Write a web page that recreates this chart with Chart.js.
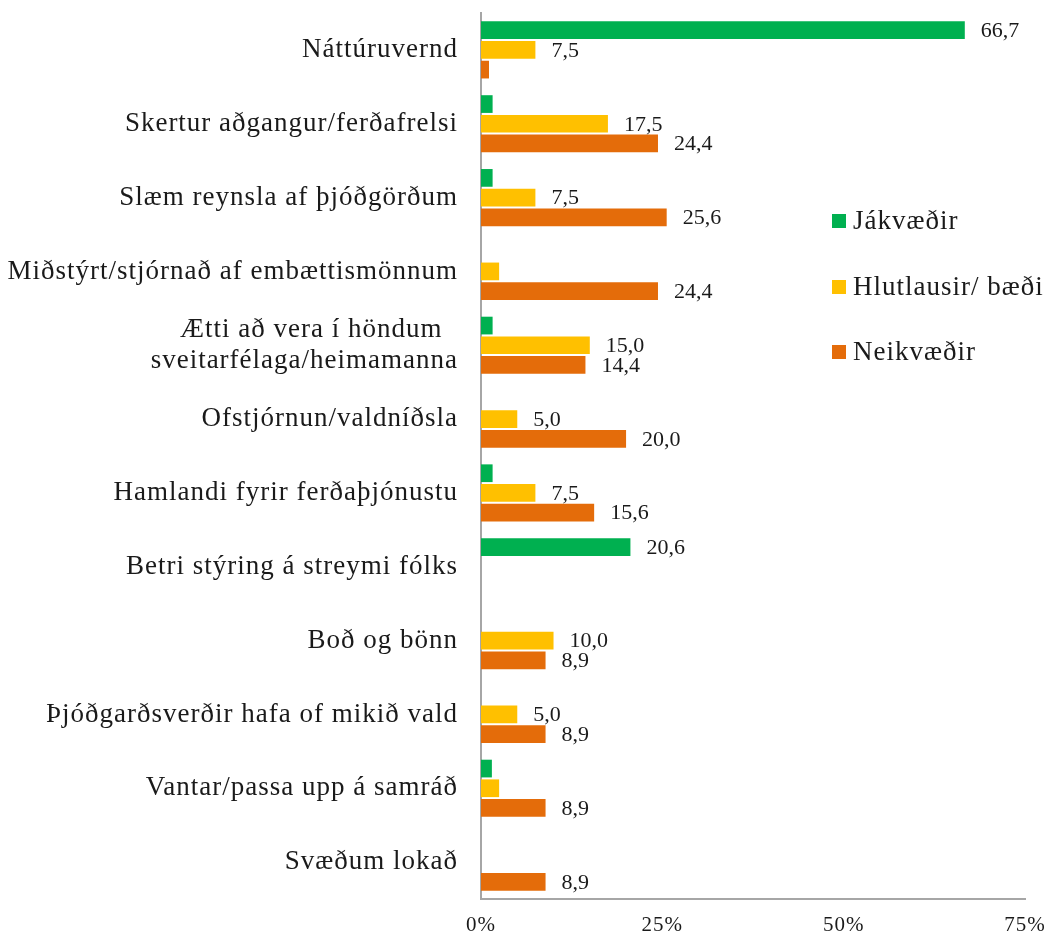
<!DOCTYPE html>
<html>
<head>
<meta charset="utf-8">
<script src="https://cdn.jsdelivr.net/npm/chart.js@4/dist/chart.umd.min.js"></script>
<style>
html,body{margin:0;padding:0;background:#fff;}
#wrap{width:1050px;height:937px;}
</style>
</head>
<body>
<div id="wrap"><canvas id="c" width="1050" height="937"></canvas></div>
<script>
const categories = [
  'Náttúruvernd',
  'Skertur aðgangur/ferðafrelsi',
  'Slæm reynsla af þjóðgörðum',
  'Miðstýrt/stjórnað af embættismönnum',
  ['Ætti að vera í höndum  ', 'sveitarfélaga/heimamanna'],
  'Ofstjórnun/valdníðsla',
  'Hamlandi fyrir ferðaþjónustu',
  'Betri stýring á streymi fólks',
  'Boð og bönn',
  'Þjóðgarðsverðir hafa of mikið vald',
  'Vantar/passa upp á samráð',
  'Svæðum lokað'
];
const seriesNames = ['Jákvæðir', 'Hlutlausir/ bæði', 'Neikvæðir'];
const jakvaedir  = [66.7, 1.6, 1.6, null, 1.6, null, 1.6, 20.6, null, null, 1.5, null];
const hlutlausir = [7.5, 17.5, 7.5, 2.5, 15.0, 5.0, 7.5, null, 10.0, 5.0, 2.5, null];
const neikvaedir = [1.1, 24.4, 25.6, 24.4, 14.4, 20.0, 15.6, null, 8.9, 8.9, 8.9, 8.9];
const xTicks = [0, 25, 50, 75];
const colors = ['#00B050', '#FFC000', '#E46C0A'];

const FONT = "'Liberation Serif', 'Times New Roman', serif";
const TXT = '#1a1a1a';

const spacing = {
  id: 'spacing',
  beforeDraw(chart) { chart.ctx.letterSpacing = '1px'; }
};

const valueLabels = {
  id: 'valueLabels',
  afterDatasetsDraw(chart) {
    const ctx = chart.ctx;
    ctx.save();
    ctx.letterSpacing = '0px';
    ctx.font = '22px ' + FONT;
    ctx.fillStyle = TXT;
    ctx.textAlign = 'left';
    ctx.textBaseline = 'middle';
    chart.data.datasets.forEach((ds, di) => {
      const meta = chart.getDatasetMeta(di);
      meta.data.forEach((bar, i) => {
        const v = ds.data[i];
        if (v == null || v < 3) return;
        ctx.fillText(v.toFixed(1).replace('.', ','), bar.x + 16, bar.y + 1);
      });
    });
    ctx.restore();
  }
};

const sideLegend = {
  id: 'sideLegend',
  afterDraw(chart) {
    const ctx = chart.ctx;
    ctx.save();
    ctx.letterSpacing = '1px';
    ctx.font = '27px ' + FONT;
    ctx.textBaseline = 'middle';
    ctx.textAlign = 'left';
    const ys = [221, 287, 352];
    chart.data.datasets.forEach((ds, i) => {
      ctx.fillStyle = ds.backgroundColor;
      ctx.fillRect(832, ys[i] - 7, 14, 14);
      ctx.fillStyle = TXT;
      ctx.fillText(ds.label, 853, ys[i] + 1);
    });
    ctx.restore();
  }
};

function zeroPad(s) { s.paddingTop = 0; s.paddingBottom = 0; s.paddingLeft = 0; s.paddingRight = 0; }

new Chart(document.getElementById('c'), {
  type: 'bar',
  data: {
    labels: categories,
    datasets: [
      { label: seriesNames[0], data: jakvaedir, backgroundColor: colors[0] },
      { label: seriesNames[1], data: hlutlausir, backgroundColor: colors[1] },
      { label: seriesNames[2], data: neikvaedir, backgroundColor: colors[2] }
    ]
  },
  options: {
    indexAxis: 'y',
    responsive: false,
    animation: false,
    devicePixelRatio: 1,
    layout: { padding: { top: 13, right: 25, left: 0, bottom: 0 } },
    datasets: { bar: { categoryPercentage: 0.8, barPercentage: 0.9, borderWidth: 0 } },
    plugins: { legend: { display: false }, tooltip: { enabled: false } },
    scales: {
      x: {
        min: 0, max: 75,
        afterBuildTicks: s => { s.ticks = xTicks.map(v => ({ value: v })); },
        afterFit: s => { s.height = 38; zeroPad(s); },
        grid: { display: false, drawTicks: false },
        border: { display: true, color: '#A6A6A6', width: 2 },
        ticks: { padding: 14, color: TXT, font: { family: FONT, size: 21 }, callback: v => v + '%', maxRotation: 0 }
      },
      y: {
        afterFit: s => { s.width = 481; zeroPad(s); },
        grid: { display: false, drawTicks: false },
        border: { display: true, color: '#A6A6A6', width: 2 },
        ticks: { padding: 23, color: TXT, font: { family: FONT, size: 27, lineHeight: 1.15 }, autoSkip: false }
      }
    }
  },
  plugins: [spacing, valueLabels, sideLegend]
});
</script>
</body>
</html>
